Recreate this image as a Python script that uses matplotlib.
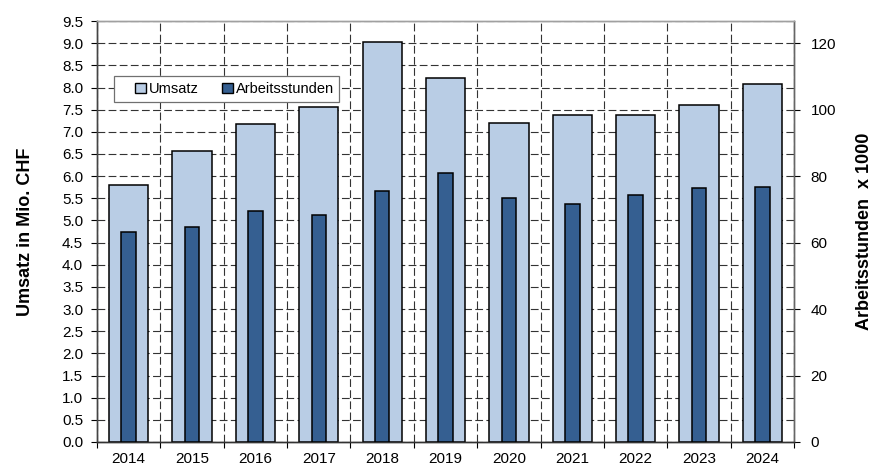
import matplotlib
matplotlib.use("Agg")
import matplotlib.pyplot as plt
import numpy as np
from matplotlib.patches import Patch, Rectangle
from matplotlib.ticker import MultipleLocator, FixedLocator, FormatStrFormatter

plt.rcParams['font.family'] = ['Liberation Sans', 'DejaVu Sans']

years = ["2014", "2015", "2016", "2017", "2018", "2019", "2020", "2021", "2022", "2023", "2024"]
umsatz = [5.80, 6.57, 7.17, 7.57, 9.02, 8.21, 7.19, 7.39, 7.37, 7.61, 8.09]          # Mio. CHF
arbeitsstunden = [63.3, 64.7, 69.6, 68.2, 75.5, 80.9, 73.3, 71.5, 74.3, 76.3, 76.8]  # x 1000

light = "#B9CDE5"
dark = "#355F91"

fig = plt.figure(figsize=(8.71, 4.68), dpi=100)
ax = fig.add_axes([0.1114, 0.0556, 0.8002, 0.8994])
ax2 = ax.twinx()

x = np.arange(len(years))
ax.bar(x, umsatz, width=0.62, color=light, edgecolor="black", linewidth=1.1, zorder=3)
ax2.bar(x, arbeitsstunden, width=0.23, color=dark, edgecolor="black", linewidth=1.1, zorder=3)

ax.set_xlim(-0.5, len(years) - 0.5)
ax.set_ylim(0, 9.5)
ax2.set_ylim(0, 9.5 / 9 * 120)

# left axis
ax.yaxis.set_major_locator(MultipleLocator(0.5))
ax.yaxis.set_major_formatter(FormatStrFormatter("%.1f"))
ax.tick_params(axis="y", direction="out", length=4, width=0.8, labelsize=11, pad=6)

# categories
ax.xaxis.set_major_locator(FixedLocator(x))
ax.set_xticklabels(years)
ax.xaxis.set_minor_locator(FixedLocator(np.arange(len(years) + 1) - 0.5))
ax.tick_params(axis="x", which="major", length=0, labelsize=11, pad=7)
ax.tick_params(axis="x", which="minor", direction="out", length=4, width=0.8)

# right axis
ax2.yaxis.set_major_locator(MultipleLocator(20))
ax2.tick_params(axis="y", which="major", direction="out", length=4, width=0.8, labelsize=11, pad=8)

# dashed grid behind the bars
dash = (0, (7, 3))
ax.set_axisbelow(True)
ax.grid(axis="y", which="major", color="#333333", linestyle=dash, linewidth=0.8, zorder=0)
ax.grid(axis="x", which="minor", color="#333333", linestyle=dash, linewidth=0.8, zorder=0)

for a in (ax, ax2):
    a.spines["top"].set_color("#A0A0A0")
    a.spines["left"].set_color("#444444")
    a.spines["right"].set_color("#666666")
    a.spines["bottom"].set_color("#333333")
    for s in a.spines.values():
        s.set_linewidth(1.0)

ax.set_ylabel("Umsatz in Mio. CHF", fontsize=13, fontweight="bold", labelpad=20)
ax2.set_ylabel("Arbeitsstunden  x 1000", fontsize=13, fontweight="bold", labelpad=14)

# legend box
box = Rectangle((0.0244, 0.808), 0.3228, 0.061, transform=ax2.transAxes,
                facecolor="white", edgecolor="#707070", linewidth=0.9, zorder=5)
ax2.add_patch(box)
handles = [Patch(facecolor=light, edgecolor="black", linewidth=1.0, label="Umsatz"),
           Patch(facecolor=dark, edgecolor="black", linewidth=1.0, label="Arbeitsstunden")]
leg = ax2.legend(handles=handles, loc="center", bbox_to_anchor=(0.1858 + 0.012, 0.8385),
                 ncol=2, fontsize=10.5, frameon=False,
                 handlelength=0.75, handleheight=0.75, handletextpad=0.2, columnspacing=1.6,
                 borderpad=0.2, borderaxespad=0)
leg.set_zorder(6)

fig.savefig("out.png", dpi=100)
